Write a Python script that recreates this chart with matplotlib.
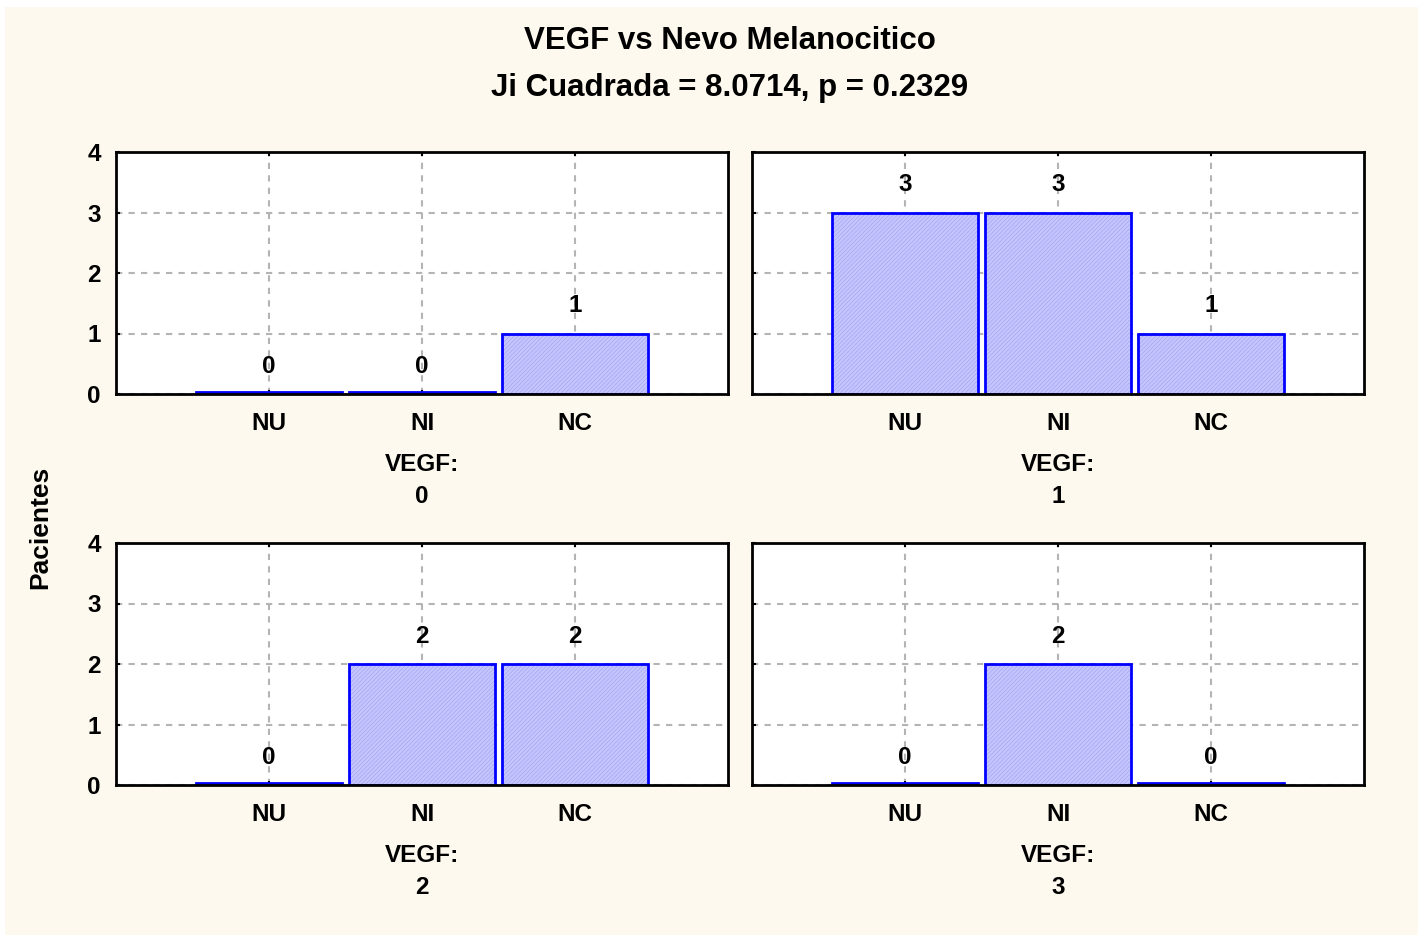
import numpy as np
import matplotlib.pyplot as plt
from matplotlib.patches import Rectangle

plt.rcParams['font.family'] = ['Liberation Sans', 'DejaVu Sans']
plt.rcParams['font.weight'] = 'bold'
plt.rcParams['hatch.linewidth'] = 0.6

# Data
categories = ['NU', 'NI', 'NC']
vegf_levels = ['0', '1', '2', '3']
counts = [
    [0, 0, 1],
    [3, 3, 1],
    [0, 2, 2],
    [0, 2, 0],
]
title = 'VEGF vs Nevo Melanocitico'
subtitle = 'Ji Cuadrada = 8.0714, p = 0.2329'

W, H = 1418, 935
fig = plt.figure(figsize=(W / 100, H / 100), dpi=100, facecolor='white')
fig.patches.append(Rectangle((5 / W, 0), 1 - 5 / W, 1 - 7 / H,
                             transform=fig.transFigure, facecolor='#fef9ee',
                             edgecolor='none', zorder=-10))

# axes boxes in pixels: left, top, right, bottom
boxes = [(116, 152, 728, 394), (752, 152, 1364, 394),
         (116, 543, 728, 785), (752, 543, 1364, 785)]

fs = 17.5
x = np.arange(1, len(categories) + 1)
for k, (l, t, r, b) in enumerate(boxes):
    ax = fig.add_axes([l / W, 1 - b / H, (r - l) / W, (b - t) / H])
    ax.set_facecolor('white')
    vals = np.array(counts[k], dtype=float)
    shown = np.maximum(vals, 0.04)
    ax.bar(x, shown, width=0.95, color='#c6c6ff', edgecolor='#aaaaf2',
           hatch='////////', linewidth=0, zorder=2)
    ax.bar(x, shown, width=0.95, fill=False, edgecolor='#0000ff',
           linewidth=2, zorder=3)
    for xi, v in zip(x, vals):
        ax.annotate(f'{int(v)}', (xi, v), xytext=(0, 20), textcoords='offset points',
                    ha='center', va='center', fontsize=fs, fontweight='bold')
    ax.set_xlim(0, 4)
    ax.set_ylim(0, 4)
    ax.set_xticks(x)
    ax.set_xticklabels(categories, fontsize=fs, fontweight='bold')
    ax.set_yticks(range(5))
    if k % 2 == 0:
        ax.set_yticklabels([str(i) for i in range(5)], fontsize=fs, fontweight='bold')
    else:
        ax.set_yticklabels([])
    ax.tick_params(direction='in', length=3, width=1.5, top=True)
    ax.tick_params(axis='y', pad=11)
    ax.tick_params(axis='x', pad=13)
    ax.grid(True, color='#b4b4b4', linestyle=(0, (3, 3)), linewidth=1.5, zorder=1)
    ax.set_axisbelow(True)
    for s in ax.spines.values():
        s.set_linewidth(2)
        s.set_zorder(4)
    cx = (l + r) / 2 / W
    fig.text(cx, 1 - (b + 70) / H, 'VEGF:', ha='center', va='center',
             fontsize=fs, fontweight='bold')
    fig.text(cx, 1 - (b + 103) / H, vegf_levels[k], ha='center', va='center',
             fontsize=fs, fontweight='bold')

fig.text(40 / W, 1 - 527 / H, 'Pacientes', rotation=90, ha='center', va='center',
         fontsize=19, fontweight='bold')
fig.text(730 / W, 1 - 41 / H, title, ha='center', va='center',
         fontsize=22.5, fontweight='bold')
fig.text(730 / W, 1 - 88 / H, subtitle, ha='center', va='center',
         fontsize=22.5, fontweight='bold')

fig.savefig('out.png', dpi=100, facecolor=fig.get_facecolor())
